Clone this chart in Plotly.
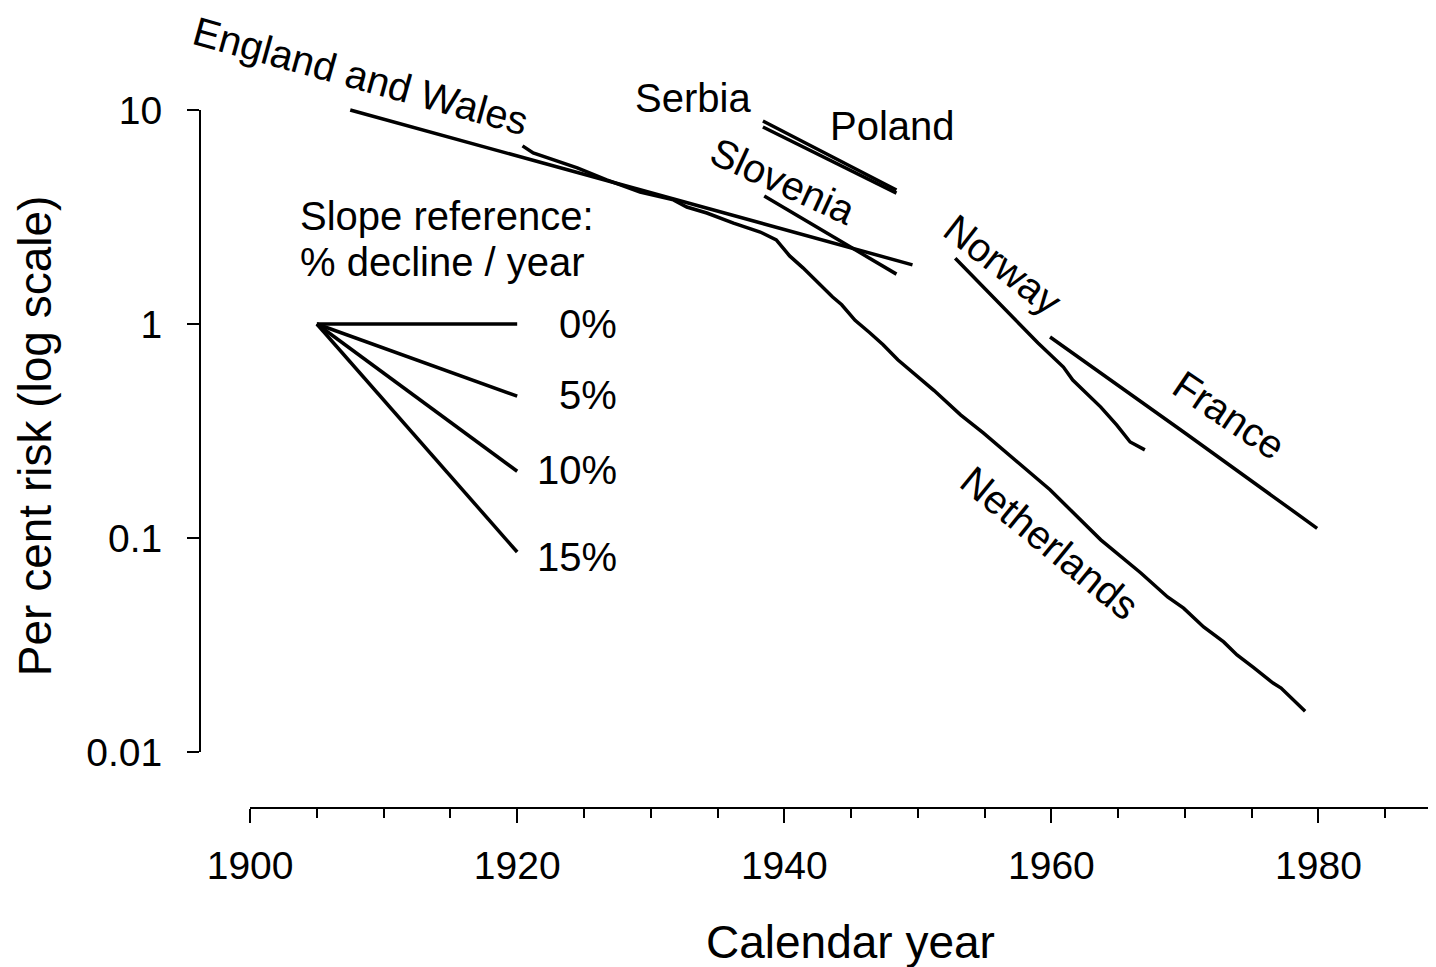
import plotly.graph_objects as go

FONT_FAMILY = "Liberation Sans, Arial, sans-serif"
LINE_W = 3.5

# (year, per cent risk)
ew_year = [1907.5, 1949.6]
ew_risk = [10.0, 1.89]

serbia_year = [1938.4, 1948.4]
serbia_risk = [8.89, 4.23]

poland_year = [1938.4, 1948.4]
poland_risk = [8.33, 4.09]

slovenia_year = [1938.5, 1948.4]
slovenia_risk = [3.96, 1.71]

nl_year = [1920.4, 1921.2, 1924.5, 1926.7, 1929.2, 1931.7, 1932.7, 1934.2, 1936.2, 1938.2,
           1939.4, 1940.4, 1941.4, 1942.7, 1943.6, 1944.3, 1945.3, 1946.4, 1947.4, 1948.5,
           1949.4, 1951.2, 1953.2, 1954.9, 1959.9, 1963.7, 1966.7, 1968.7, 1969.9, 1971.4,
           1972.9, 1973.9, 1975.1, 1976.6, 1977.2, 1979.0]
nl_risk = [6.8, 6.3, 5.36, 4.71, 4.14, 3.80, 3.52, 3.30, 2.96, 2.69,
           2.47, 2.08, 1.83, 1.52, 1.34, 1.23, 1.04, 0.91, 0.80, 0.68,
           0.61, 0.49, 0.376, 0.31, 0.168, 0.098, 0.0686, 0.053, 0.047, 0.0384,
           0.0327, 0.0284, 0.0249, 0.0210, 0.0199, 0.0155]

norway_year = [1952.8, 1954.9, 1957.9, 1959.0, 1960.9, 1961.6, 1963.7, 1964.9, 1965.9, 1967.0]
norway_risk = [2.03, 1.49, 0.968, 0.815, 0.629, 0.547, 0.409, 0.337, 0.281, 0.258]

france_year = [1959.9, 1969.9, 1979.9]
france_risk = [0.869, 0.313, 0.111]

# slope reference fan: start 1905 at 1 %, end 1920
slope_labels = ['0%', '5%', '10%', '15%']
slope_start = [1905, 1.0]
slope_end_year = 1920
slope_end_risk = [1.0, 0.46, 0.205, 0.086]

x_lo, x_hi = 1896.25, 1988.8
y_lo, y_hi = -2.2617, 1.4766

fig = go.Figure()

countries = [
    (ew_year, ew_risk), (serbia_year, serbia_risk), (poland_year, poland_risk),
    (slovenia_year, slovenia_risk), (nl_year, nl_risk), (norway_year, norway_risk),
    (france_year, france_risk),
]
for yrs, risk in countries:
    fig.add_trace(go.Scatter(x=yrs, y=risk, mode='lines', xaxis='x', yaxis='y',
                             line=dict(color='black', width=LINE_W), showlegend=False, hoverinfo='skip'))

for end in slope_end_risk:
    fig.add_trace(go.Scatter(x=[slope_start[0], slope_end_year], y=[slope_start[1], end], mode='lines',
                             xaxis='x2', yaxis='y2',
                             line=dict(color='black', width=LINE_W), showlegend=False, hoverinfo='skip'))

font = dict(family=FONT_FAMILY, size=40, color='black')
tick_font = dict(family=FONT_FAMILY, size=39, color='black')
title_font = dict(family=FONT_FAMILY, size=46, color='black')

labels = [
    ('England and Wales', 1908.3, 1.159, 15.5),
    ('Serbia', 1933.2, 1.056, 0),
    ('Poland', 1948.1, 0.925, 0),
    ('Slovenia', 1939.9, 0.668, 24.6),
    ('Norway', 1956.4, 0.276, 37.8),
    ('France', 1973.3, -0.425, 34),
    ('Netherlands', 1959.9, -1.023, 39.3),
]
annotations = []
for txt, ax_, ay_, ang in labels:
    annotations.append(dict(text=txt, x=ax_, y=ay_, xref='x', yref='y', showarrow=False,
                            textangle=ang, font=font, xanchor='center', yanchor='middle'))

annotations.append(dict(text='Slope reference:', x=1903.6, y=0.505, xref='x', yref='y', showarrow=False,
                        font=font, xanchor='left', yanchor='middle'))
annotations.append(dict(text='% decline / year', x=1903.6, y=0.290, xref='x', yref='y', showarrow=False,
                        font=font, xanchor='left', yanchor='middle'))
for txt, ly in zip(slope_labels, [0.0, -0.332, -0.682, -1.089]):
    annotations.append(dict(text=txt, x=1927.6, y=ly, xref='x', yref='y', showarrow=False,
                            font=font, xanchor='right', yanchor='middle'))

annotations.append(dict(text='Per cent risk (log scale)', x=-0.1335, y=0.466, xref='paper', yref='paper',
                        xanchor='center', yanchor='middle',
                        showarrow=False, textangle=-90, font=title_font))
annotations.append(dict(text='Calendar year', x=0.5259, y=-0.1675, xref='paper', yref='paper',
                        xanchor='center', yanchor='middle',
                        showarrow=False, font=title_font))

fig.update_layout(
    width=1428, height=959,
    margin=dict(l=192, r=0, t=0, b=159, pad=0, autoexpand=False),
    plot_bgcolor='rgba(0,0,0,0)', paper_bgcolor='white',
    font=font,
    annotations=annotations,
    xaxis=dict(range=[x_lo, x_hi], visible=False, fixedrange=True),
    yaxis=dict(type='log', range=[y_lo, y_hi], visible=False, fixedrange=True),
    xaxis2=dict(
        domain=[(1900 - x_lo) / (x_hi - x_lo), 1], range=[1900, x_hi],
        anchor='free', position=0, showgrid=False, zeroline=False,
        showline=True, linecolor='black', linewidth=2,
        tickmode='array', tickvals=[1900, 1920, 1940, 1960, 1980],
        ticktext=['1900', '1920', '1940', '1960', '1980'],
        ticks='outside', ticklen=14, tickwidth=2, tickcolor='black',
        minor=dict(dtick=5, tick0=1900, ticks='outside', ticklen=9, tickwidth=2, tickcolor='black', showgrid=False),
        ticklabelstandoff=9, tickfont=tick_font, fixedrange=True,
    ),
    yaxis2=dict(
        type='log',
        domain=[(-2 - y_lo) / (y_hi - y_lo), (1 - y_lo) / (y_hi - y_lo)], range=[-2, 1],
        anchor='free', position=0, showgrid=False, zeroline=False,
        showline=True, linecolor='black', linewidth=2,
        tickmode='array', tickvals=[0.01, 0.1, 1, 10], ticktext=['0.01', '0.1', '1', '10'],
        ticks='outside', ticklen=12, tickwidth=2, tickcolor='black',
        ticklabelstandoff=17, tickfont=tick_font, fixedrange=True,
    ),
)

fig.write_html("out.html")
